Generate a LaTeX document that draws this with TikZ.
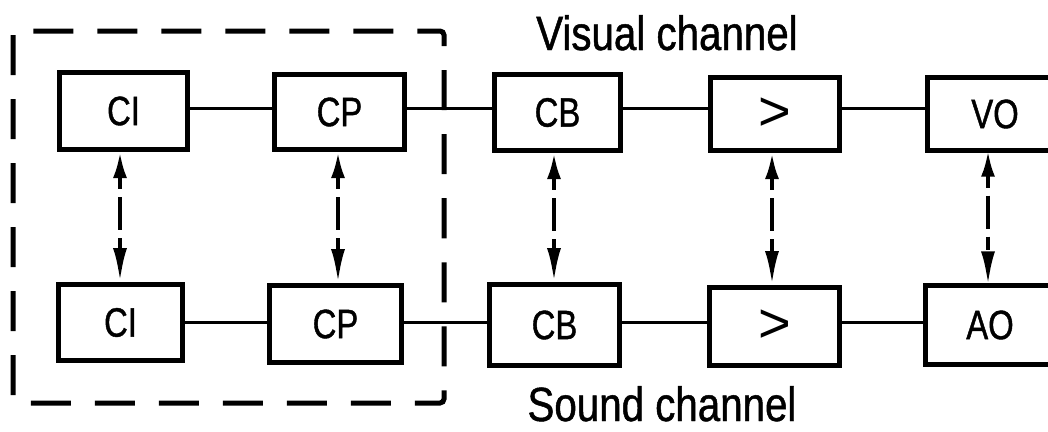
\documentclass[tikz,border=0pt]{standalone}
\usepackage{fontspec}
\setmainfont{Liberation Sans}[FakeStretch=0.8, FakeBold=1]
\newfontfamily\capfont{Liberation Sans}[FakeStretch=0.84, FakeBold=1]
\newfontfamily\gtfont{Liberation Sans}
\usetikzlibrary{arrows.meta,calc}
\begin{document}
\begin{tikzpicture}[x=1pt,y=-1pt,
  box/.style={draw, line width=5pt, inner sep=0pt, font=\fontsize{41}{41}\selectfont},
  gt/.style={box, font=\gtfont\fontsize{56}{56}\selectfont},
  nobox/.style={inner sep=0pt, font=\fontsize{41}{41}\selectfont},
  wire/.style={line width=3pt},
  link/.style={line width=4pt, dash pattern=on 13pt off 8pt on 33pt off 8pt,
    arrows={Latex[length=26pt,width=14pt]-Latex[length=34pt,width=14pt]}},
  frame/.style={line width=5pt, dash pattern=on 40pt off 24pt, rounded corners=4pt},
  caption/.style={inner sep=0pt, anchor=base, font=\capfont\fontsize{48}{48}\selectfont}]
\clip (0,0) rectangle (1048,431);
\fill[white] (0,0) rectangle (1048,431);
% top row
\node[box, minimum width=128pt, minimum height=77pt] (CIa) at (123.5,111) {CI};
\node[box, minimum width=130pt, minimum height=75pt] (CPa) at (339.5,112) {CP};
\node[box, minimum width=126pt, minimum height=76pt] (CBa) at (557.5,112.5) {CB};
\node[gt,  minimum width=129pt, minimum height=73pt] (Ga) at (775,114) {>};
\node[nobox, minimum width=135pt, minimum height=73pt] (VO) at (995,114) {VO};
\draw[line width=5pt] ($(VO.north west)+(200,0)$) -- (VO.north west) -- (VO.south west) -- ++(200,0);
% bottom row
\node[box, minimum width=124pt, minimum height=76pt] (CIb) at (120.5,322.5) {CI};
\node[box, minimum width=132pt, minimum height=77pt] (CPb) at (335.5,324) {CP};
\node[box, minimum width=130pt, minimum height=81pt] (CBb) at (554.5,325) {CB};
\node[gt,  minimum width=130pt, minimum height=78pt] (Gb) at (774.5,326.5) {>};
\node[nobox, minimum width=129pt, minimum height=79pt] (AO) at (990,325) {AO};
\draw[line width=5pt] ($(AO.north west)+(200,0)$) -- (AO.north west) -- (AO.south west) -- ++(200,0);
% horizontal connections
\draw[wire] (CIa.east |- 0,108) -- (CPa.west |- 0,108);
\draw[wire] (CPa.east |- 0,108) -- (CBa.west |- 0,108);
\draw[wire] (CBa.east |- 0,108) -- (Ga.west |- 0,108);
\draw[wire] (Ga.east |- 0,108) -- (VO.west |- 0,108);
\draw[wire] (CIb.east |- 0,322) -- (CPb.west |- 0,322);
\draw[wire] (CPb.east |- 0,322) -- (CBb.west |- 0,322);
\draw[wire] (CBb.east |- 0,322) -- (Gb.west |- 0,322);
\draw[wire] (Gb.east |- 0,322) -- (AO.west |- 0,322);
% vertical links
\draw[link] (CIa.south -| 120,0) -- (CIb.north -| 120,0);
\draw[link] (CPa.south -| 338,0) -- (CPb.north -| 338,0);
\draw[link] (CBa.south -| 554,0) -- (CBb.north -| 554,0);
\draw[link] (Ga.south -| 772,0) -- (Gb.north -| 772,0);
\draw[link] (VO.south -| 988,0) -- (AO.north -| 988,0);
% dashed frame
\coordinate (f1) at (13,31);
\coordinate (f2) at (444,403);
\draw[frame] (f1) rectangle (f2);
% captions
\node[caption] (vis) at (667,50) {Visual channel};
\node[caption] (snd) at (662,421) {Sound channel};
\end{tikzpicture}
\end{document}
